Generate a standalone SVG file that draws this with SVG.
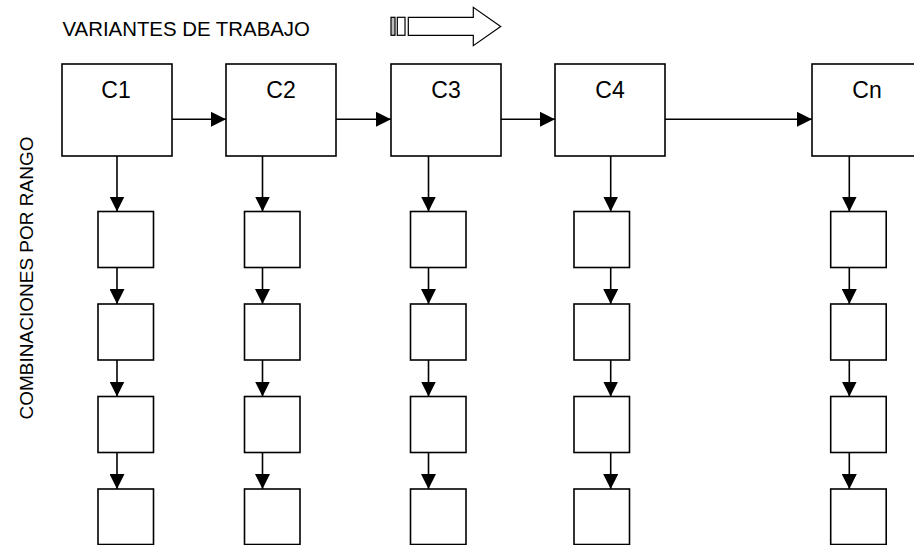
<svg xmlns="http://www.w3.org/2000/svg" width="914" height="545" viewBox="0 0 914 545">
  <style>
    .box { fill: #ffffff; stroke: #000000; stroke-width: 1.6; }
    .lbl { font-family: "Liberation Sans", Arial, sans-serif; fill: #000000; }
    .big { font-size: 23px; text-anchor: middle; }
    .edge { stroke: #000000; stroke-width: 1.6; fill: none; marker-end: url(#head); }
  </style>
  <defs>
    <marker id="head" viewBox="0 0 15 15" refX="15" refY="7.5" markerWidth="15" markerHeight="15" markerUnits="userSpaceOnUse" orient="auto">
      <path d="M0,0 L15,7.5 L0,15 Z" fill="#000000"/>
    </marker>
  </defs>
  <rect width="914" height="545" fill="#ffffff"/>

  <!-- headings -->
  <text class="lbl" x="62.5" y="36" font-size="20.4">VARIANTES DE TRABAJO</text>
  <text class="lbl" font-size="19" text-anchor="middle" transform="translate(33 278) rotate(-90)">COMBINACIONES POR RANGO</text>

  <!-- striped block arrow -->
  <g id="direction-arrow" stroke="#000000" stroke-width="1.2">
    <rect x="391" y="17.3" width="4" height="18" fill="#bdbdbd"/>
    <rect x="397.3" y="17.3" width="7.7" height="18" fill="#ffffff"/>
    <path d="M408.3,17.3 H473.3 V7.3 L500.7,26.5 L473.3,45.7 V35.3 H408.3 Z" fill="#ffffff"/>
  </g>

  <!-- connectors -->
  <g id="connectors">
    <line class="edge" x1="172" y1="119.3" x2="226" y2="119.3"/>
    <line class="edge" x1="336" y1="119.3" x2="391" y2="119.3"/>
    <line class="edge" x1="501" y1="119.3" x2="555" y2="119.3"/>
    <line class="edge" x1="665" y1="119.3" x2="812" y2="119.3"/>

    <line class="edge" x1="117" y1="156" x2="117" y2="211.5"/>
    <line class="edge" x1="117" y1="267.5" x2="117" y2="304"/>
    <line class="edge" x1="117" y1="360" x2="117" y2="396.5"/>
    <line class="edge" x1="117" y1="452.5" x2="117" y2="489"/>

    <line class="edge" x1="262.5" y1="156" x2="262.5" y2="211.5"/>
    <line class="edge" x1="262.5" y1="267.5" x2="262.5" y2="304"/>
    <line class="edge" x1="262.5" y1="360" x2="262.5" y2="396.5"/>
    <line class="edge" x1="262.5" y1="452.5" x2="262.5" y2="489"/>

    <line class="edge" x1="428.5" y1="156" x2="428.5" y2="211.5"/>
    <line class="edge" x1="428.5" y1="267.5" x2="428.5" y2="304"/>
    <line class="edge" x1="428.5" y1="360" x2="428.5" y2="396.5"/>
    <line class="edge" x1="428.5" y1="452.5" x2="428.5" y2="489"/>

    <line class="edge" x1="610.7" y1="156" x2="610.7" y2="211.5"/>
    <line class="edge" x1="610.7" y1="267.5" x2="610.7" y2="304"/>
    <line class="edge" x1="610.7" y1="360" x2="610.7" y2="396.5"/>
    <line class="edge" x1="610.7" y1="452.5" x2="610.7" y2="489"/>

    <line class="edge" x1="849.3" y1="156" x2="849.3" y2="211.5"/>
    <line class="edge" x1="849.3" y1="267.5" x2="849.3" y2="304"/>
    <line class="edge" x1="849.3" y1="360" x2="849.3" y2="396.5"/>
    <line class="edge" x1="849.3" y1="452.5" x2="849.3" y2="489"/>
  </g>

  <!-- column heads -->
  <g id="c1"><rect class="box" x="62" y="64" width="110" height="92"/><text class="lbl big" x="116" y="97.5">C1</text></g>
  <g id="c2"><rect class="box" x="226" y="64" width="110" height="92"/><text class="lbl big" x="281" y="97.5">C2</text></g>
  <g id="c3"><rect class="box" x="391" y="64" width="110" height="92"/><text class="lbl big" x="446" y="97.5">C3</text></g>
  <g id="c4"><rect class="box" x="555" y="64" width="110" height="92"/><text class="lbl big" x="610" y="97.5">C4</text></g>
  <g id="cn"><rect class="box" x="812" y="64" width="110" height="92"/><text class="lbl big" x="867" y="97.5">Cn</text></g>

  <!-- ranked combinations, column 1 -->
  <g id="c1-r1"><rect class="box" x="98" y="211.5" width="55.5" height="56"/></g>
  <g id="c1-r2"><rect class="box" x="98" y="304" width="55.5" height="56"/></g>
  <g id="c1-r3"><rect class="box" x="98" y="396.5" width="55.5" height="56"/></g>
  <g id="c1-r4"><rect class="box" x="98" y="489" width="55.5" height="55.5"/></g>

  <!-- column 2 -->
  <g id="c2-r1"><rect class="box" x="244.5" y="211.5" width="55.5" height="56"/></g>
  <g id="c2-r2"><rect class="box" x="244.5" y="304" width="55.5" height="56"/></g>
  <g id="c2-r3"><rect class="box" x="244.5" y="396.5" width="55.5" height="56"/></g>
  <g id="c2-r4"><rect class="box" x="244.5" y="489" width="55.5" height="55.5"/></g>

  <!-- column 3 -->
  <g id="c3-r1"><rect class="box" x="410.5" y="211.5" width="55.5" height="56"/></g>
  <g id="c3-r2"><rect class="box" x="410.5" y="304" width="55.5" height="56"/></g>
  <g id="c3-r3"><rect class="box" x="410.5" y="396.5" width="55.5" height="56"/></g>
  <g id="c3-r4"><rect class="box" x="410.5" y="489" width="55.5" height="55.5"/></g>

  <!-- column 4 -->
  <g id="c4-r1"><rect class="box" x="574" y="211.5" width="55.5" height="56"/></g>
  <g id="c4-r2"><rect class="box" x="574" y="304" width="55.5" height="56"/></g>
  <g id="c4-r3"><rect class="box" x="574" y="396.5" width="55.5" height="56"/></g>
  <g id="c4-r4"><rect class="box" x="574" y="489" width="55.5" height="55.5"/></g>

  <!-- column n -->
  <g id="cn-r1"><rect class="box" x="830.7" y="211.5" width="55.5" height="56"/></g>
  <g id="cn-r2"><rect class="box" x="830.7" y="304" width="55.5" height="56"/></g>
  <g id="cn-r3"><rect class="box" x="830.7" y="396.5" width="55.5" height="56"/></g>
  <g id="cn-r4"><rect class="box" x="830.7" y="489" width="55.5" height="55.5"/></g>
</svg>
